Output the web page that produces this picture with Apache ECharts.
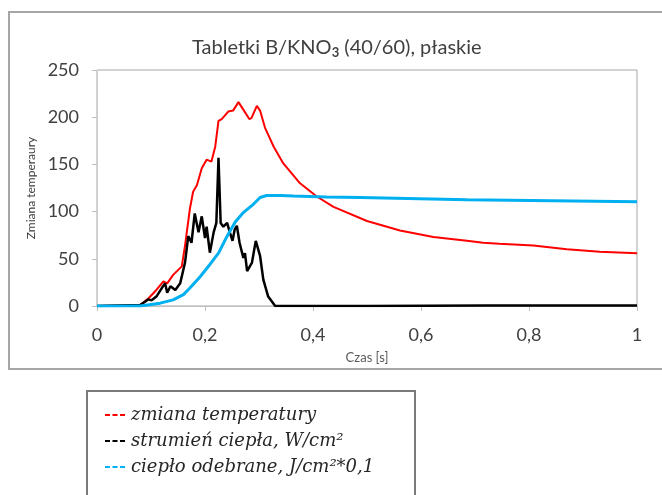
<!DOCTYPE html>
<html>
<head>
<meta charset="utf-8">
<script src="https://cdn.jsdelivr.net/npm/echarts@6/dist/echarts.min.js"></script>
<style>
  html, body { margin: 0; padding: 0; background: #fff; }
  #chart { width: 662px; height: 495px; }
</style>
</head>
<body>
<div id="chart"></div>
<script>
// czas [s] i wartości
var tempTime = [0, 0.08, 0.095, 0.11, 0.123, 0.13, 0.141, 0.157, 0.163, 0.172, 0.178, 0.185, 0.194, 0.203, 0.212, 0.219, 0.225, 0.231, 0.237, 0.243, 0.252, 0.262, 0.271, 0.282, 0.286, 0.296, 0.302, 0.311, 0.327, 0.345, 0.376, 0.407, 0.438, 0.5, 0.561, 0.623, 0.685, 0.715, 0.745, 0.808, 0.87, 0.931, 1];
var tempVals = [0, 1, 8, 17, 26, 24, 33, 42, 64, 103, 121, 128, 146, 155, 153, 169, 196, 198, 202, 206, 207, 216, 208, 198, 199, 212, 207, 189, 169, 151, 130, 116, 105, 90, 80, 73, 69, 67, 66, 64, 60, 57.5, 56];

var fluxTime = [0, 0.08, 0.089, 0.095, 0.101, 0.11, 0.12, 0.126, 0.13, 0.136, 0.145, 0.154, 0.163, 0.169, 0.175, 0.181, 0.188, 0.194, 0.2, 0.203, 0.209, 0.216, 0.221, 0.225, 0.229, 0.234, 0.241, 0.246, 0.251, 0.255, 0.259, 0.264, 0.271, 0.274, 0.278, 0.287, 0.294, 0.302, 0.308, 0.317, 0.33, 0.5, 0.72, 1];
var fluxVals = [0, 1, 4.6, 7, 6, 10, 19, 24, 14, 21, 17, 24, 46, 74, 67, 98, 78, 95, 72, 84, 56.5, 78, 88, 157, 88, 84, 88, 78, 69, 81, 85, 67, 51, 56, 37, 46, 69, 53, 28, 10, 0, 0, 0.5, 0.5];

var heatTime = [0, 0.08, 0.117, 0.141, 0.16, 0.172, 0.191, 0.209, 0.225, 0.24, 0.256, 0.271, 0.29, 0.302, 0.314, 0.34, 0.364, 0.425, 0.487, 0.685, 1];
var heatVals = [0, 0, 3, 6.5, 12, 19, 31, 44, 56, 73, 89, 99, 108, 115, 117, 117, 116.5, 115.5, 115, 112.5, 110.5];

var xTicks = [0, 0.2, 0.4, 0.6, 0.8, 1];
var yTicks = [0, 50, 100, 150, 200, 250];

function pairs(t, v) {
  var out = [];
  for (var i = 0; i < t.length; i++) out.push([t[i], v[i]]);
  return out;
}

var axisFont = 'Lato, "Open Sans", sans-serif';
var dashIcon = 'path://M0,0h5v2h-5z M7.5,0h5v2h-5z M15,0h5v2h-5z';

var chart = echarts.init(document.getElementById('chart'));
var option = {
  animation: false,
  backgroundColor: '#fff',
  title: {
    text: '{a|Tabletki B/KNO}{s|3}{a| (40/60), płaskie}',
    left: 187,
    top: 32,
    textStyle: {
      rich: {
        a: { fontFamily: axisFont, fontSize: 20, color: '#404040', fontWeight: 'normal' },
        s: { fontFamily: axisFont, fontSize: 13, color: '#404040', verticalAlign: 'bottom', padding: [9, 0, 0, 0] }
      }
    }
  },
  graphic: [
    { type: 'rect', shape: { x: 9, y: 12, width: 700, height: 357 }, style: { fill: 'none', stroke: '#a6a6a6', lineWidth: 2 }, silent: true, z: -1 },
    { type: 'rect', shape: { x: 87, y: 391, width: 328, height: 200 }, style: { fill: 'none', stroke: '#7a7a7a', lineWidth: 2 }, silent: true, z: -1 }
  ],
  legend: {
    orient: 'vertical',
    left: 100,
    top: 401,
    itemWidth: 22,
    itemHeight: 2,
    itemGap: 8,
    icon: dashIcon,
    textStyle: { fontFamily: '"DejaVu Serif", serif', fontStyle: 'italic', fontSize: 18, color: '#262626' },
    data: ['zmiana temperatury', 'strumień ciepła, W/cm²', 'ciepło odebrane, J/cm²*0,1']
  },
  grid: {
    left: 97, right: 25, top: 70, bottom: 189,
    show: true, borderColor: '#a6a6a6', borderWidth: 1
  },
  xAxis: {
    type: 'value',
    min: 0, max: 1, interval: 0.2,
    name: 'Czas [s]',
    nameLocation: 'middle',
    nameGap: 45,
    nameTextStyle: { fontFamily: axisFont, fontSize: 13, color: '#595959' },
    axisLine: { lineStyle: { color: '#bfbfbf' } },
    axisTick: { show: true, length: 5, lineStyle: { color: '#bfbfbf' } },
    axisLabel: {
      margin: 20,
      fontFamily: axisFont, fontSize: 18, color: '#404040',
      formatter: function (v) { return String(Math.round(v * 10) / 10).replace('.', ','); }
    },
    splitLine: { show: false }
  },
  yAxis: {
    type: 'value',
    min: 0, max: 250, interval: 50,
    name: 'Zmiana temperaury',
    nameLocation: 'middle',
    nameGap: 60,
    nameTextStyle: { fontFamily: axisFont, fontSize: 12, color: '#404040' },
    axisLine: { show: true, lineStyle: { color: '#d0d0d0' } },
    axisTick: { show: true, length: 5, lineStyle: { color: '#bfbfbf' } },
    axisLabel: { margin: 18, fontFamily: axisFont, fontSize: 18, color: '#404040' },
    splitLine: { show: false }
  },
  series: [
    {
      name: 'zmiana temperatury', type: 'line', showSymbol: false, symbol: 'none',
      color: '#ff0000', lineStyle: { width: 2, color: '#ff0000' },
      data: pairs(tempTime, tempVals), z: 2
    },
    {
      name: 'strumień ciepła, W/cm²', type: 'line', showSymbol: false, symbol: 'none',
      color: '#000000', lineStyle: { width: 2.5, color: '#000000' },
      data: pairs(fluxTime, fluxVals), z: 3
    },
    {
      name: 'ciepło odebrane, J/cm²*0,1', type: 'line', showSymbol: false, symbol: 'none',
      color: '#00b0f0', lineStyle: { width: 3, color: '#00b0f0' },
      data: pairs(heatTime, heatVals), z: 4
    }
  ]
};
chart.setOption(option);
</script>
</body>
</html>
